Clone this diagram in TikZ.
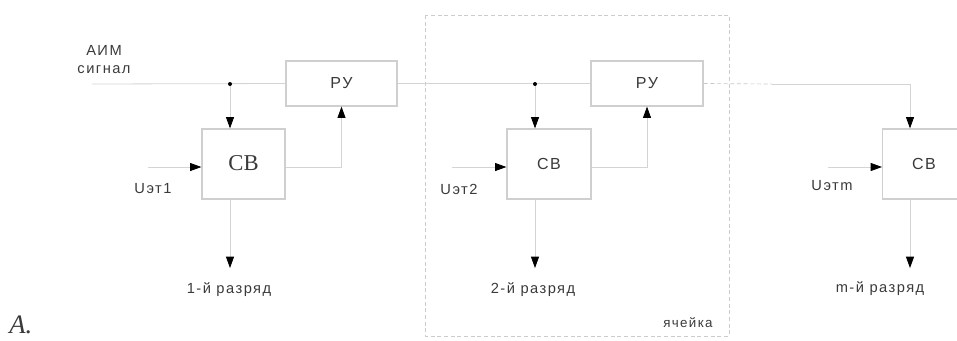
\documentclass[tikz,border=0pt]{standalone}
\usepackage{fontspec}
\setmainfont{Liberation Sans}
\newfontfamily\serifA{Liberation Serif}
\newfontfamily\spaced{Liberation Sans}[LetterSpace=10]
\usetikzlibrary{arrows.meta}
\definecolor{wirec}{HTML}{D4D4D4}
\definecolor{boxc}{HTML}{CFCFCF}
\definecolor{textc}{HTML}{3A3A3A}
\tikzset{
  wire/.style={draw=wirec, line width=0.6pt},
  arr/.style={wire, -{Triangle[length=8.5pt,width=6pt,black]}},
  blk/.style={draw=boxc, line width=0.9pt, fill=white, inner sep=0pt},
  lbl/.style={text=textc, font=\spaced\fontsize{11pt}{12pt}\selectfont, inner sep=0pt},
  biglbl/.style={lbl, font=\spaced\fontsize{12pt}{13pt}\selectfont},
  dot/.style={circle, fill=black, inner sep=0pt, minimum size=3pt},
}
\begin{document}
\begin{tikzpicture}[x=0.75pt,y=-0.75pt]
\useasboundingbox (0,0) rectangle (957,340);
% dashed cell box
\draw[draw=black!20, densely dashed, line width=0.5pt] (425,15) rectangle (729,336);
% blocks
\node[blk, minimum width=83.25pt, minimum height=33.75pt] (ru1) at (341.5,83.5) {};
\node[biglbl] at (ru1) {РУ};
\node[blk, minimum width=84pt, minimum height=33.75pt] (ru2) at (647,83.5) {};
\node[biglbl] at (ru2) {РУ};
\node[blk, minimum width=62.25pt, minimum height=52.5pt] (cb1) at (243.5,164) {};
\node[text=textc, font=\serifA\fontsize{17pt}{19pt}\selectfont, inner sep=0pt] at (243.5,163) {СВ};
\node[blk, minimum width=63pt, minimum height=52.5pt] (cb2) at (549,164) {};
\node[biglbl] at (549,164) {СВ};
\node[blk, minimum width=70pt, minimum height=52.5pt, anchor=west] (cb3) at (882,164) {};
\node[biglbl] at (924,164) {СВ};
% coordinates
\coordinate (in) at (92,84);
\coordinate (d1) at (230,84);
\coordinate (d2) at (535,84);
\coordinate (u1) at (148,167);
\coordinate (u2) at (452,167);
\coordinate (u3) at (828,167);
\coordinate (o1) at (230,268);
\coordinate (o2) at (535,268);
\coordinate (o3) at (910,268);
\coordinate (dd) at (772,84);
% wires
\draw[wire] (in) -- (ru1.west);
\draw[wire] (ru1.east) -- (ru2.west);
\draw[draw=black!22, densely dashed, line width=0.5pt] (ru2.east) -- (dd);
\draw[arr] (dd) -| (cb3.north -| o3);
\draw[arr] (d1) -- (cb1.north -| d1);
\draw[arr] (d2) -- (cb2.north -| d2);
\draw[arr] (u1) -- (cb1.west |- u1);
\draw[arr] (u2) -- (cb2.west |- u2);
\draw[arr] (u3) -- (cb3.west |- u3);
\draw[arr] (cb1.east |- u1) -| (ru1.south);
\draw[arr] (cb2.east |- u2) -| (ru2.south);
\draw[arr] (cb1.south -| o1) -- (o1);
\draw[arr] (cb2.south -| o2) -- (o2);
\draw[arr] (cb3.south -| o3) -- (o3);
\node[dot] at (d1) {};
\node[dot] at (d2) {};
% labels
\node[lbl] at (104,50) {АИМ};
\node[lbl] at (104,70) {сигнал};
\node[lbl] at (153,189) {Uэт1};
\node[lbl] at (459,189) {Uэт2};
\node[lbl] at (832,186) {Uэтm};
\node[lbl] at (229,290) {1-й разряд};
\node[lbl] at (533,290) {2-й разряд};
\node[lbl] at (880,289) {m-й разряд};
\node[lbl, font=\spaced\fontsize{10pt}{11pt}\selectfont] at (688,323) {ячейка};
\node[inner sep=0pt, text=textc, font=\serifA\itshape\fontsize{20pt}{22pt}\selectfont, anchor=base west] at (9,333) {A.};
\end{tikzpicture}
\end{document}
